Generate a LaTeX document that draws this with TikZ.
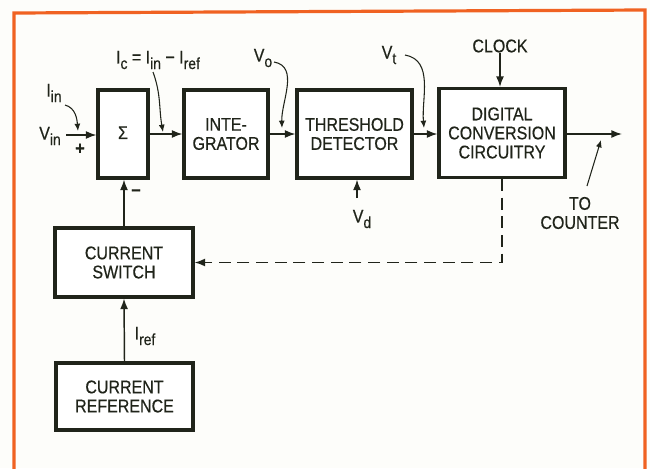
\documentclass[tikz,border=0pt]{standalone}
\usepackage{fontspec}
\setmainfont{Liberation Sans}[FakeStretch=0.87,FakeBold=0.4]
\usetikzlibrary{arrows.meta,calc}
\newcommand{\sbx}[1]{\raisebox{-0.3em}{\fontsize{12}{12}\selectfont #1}}
\definecolor{ink}{RGB}{32,36,26}
\definecolor{frameor}{RGB}{240,98,34}
\definecolor{paper}{RGB}{253,253,250}
\begin{document}
\begin{tikzpicture}[x=0.75pt,y=-0.75pt,
  every node/.style={text=ink, font=\fontsize{13.8}{14.3}\selectfont},
  blk/.style={draw=ink, line width=2.3pt, fill=white, align=center, inner sep=0pt},
  conn/.style={draw=ink, line width=1.1pt, -{Latex[length=8pt,width=6pt]}},
  thinarr/.style={draw=ink, line width=0.8pt, -{Latex[length=5.5pt,width=4.5pt]}},
  lbl/.style={inner sep=0pt, align=center}]
\useasboundingbox (0,0) rectangle (650,468);
\fill[paper] (0,0) rectangle (650,468);
\draw[frameor, line width=2.4pt] (14,470) -- (14,13) -- (645,10) -- (645,470);

% blocks
\node[blk, minimum width=37.5pt, minimum height=66pt] (sig) at (123,134) {\raisebox{2pt}{Σ}};
\node[blk, minimum width=63pt, minimum height=66pt] (integ) at (226,134) {INTE-\\GRATOR};
\node[blk, minimum width=86.25pt, minimum height=66pt] (thr) at (354.5,134) {THRESHOLD\\DETECTOR};
\node[blk, minimum width=94.5pt, minimum height=66.75pt] (dig) at (502,133) {DIGITAL\\CONVERSION\\CIRCUITRY};
\node[blk, minimum width=103.5pt, minimum height=51.75pt] (sw) at (124,262.5) {CURRENT\\SWITCH};
\node[blk, minimum width=102.75pt, minimum height=50.25pt] (ref) at (124.5,396.5) {CURRENT\\REFERENCE};

% labels
\node[lbl] (iin) at (54,93) {I\sbx{in}};
\node[lbl] (vin) at (50,136) {V\sbx{in}};
\node[lbl] (plus) at (80,149) {\textbf{+}};
\node[lbl] (minus) at (136,193) {\textbf{−}};
\node[lbl] (ic) at (158,60) {I\sbx{c} = I\sbx{in} − I\sbx{ref}};
\node[lbl] (vo) at (263,58) {V\sbx{o}};
\node[lbl] (vt) at (389,55) {V\sbx{t}};
\node[lbl] (clock) at (500,46) {CLOCK};
\node[lbl] (vd) at (362,219) {V\sbx{d}};
\node[lbl] (iref) at (145,336) {I\sbx{ref}};
\node[lbl] (toc) at (580,213) {TO\\COUNTER};

% coordinates
\coordinate (vinT) at (66,135);
\coordinate (out) at (622,134);
\coordinate (vdT) at (357,198);
\coordinate (iinT) at (65,105);
\coordinate (iinH) at (78,131);
\coordinate (icT) at (153,72);
\coordinate (icH) at (163,132);
\coordinate (voT) at (274,62);
\coordinate (voH) at (282,128);
\coordinate (vtT) at (405,55);
\coordinate (vtH) at (424,128);
\coordinate (tocT) at (587,186);
\coordinate (tocH) at (601,140);

% main connectors
\draw[conn] (vinT) -- (vinT -| sig.west);
\draw[conn] (sig.east) -- (integ.west);
\draw[conn] (integ.east) -- (thr.west);
\draw[conn] (thr.east) -- (thr.east -| dig.west);
\draw[conn] (dig.east |- out) -- (out);
\draw[conn] (clock.south) -- (clock.south |- dig.north);
\draw[conn] (vdT) -- (vdT |- thr.south);
\draw[conn] (sw.north) -- (sw.north |- sig.south);
\draw[conn] (ref.north) -- (sw.south);
\draw[conn, dash pattern=on 9pt off 5pt] (dig.south) |- (sw.east);

% thin pointer arrows
\draw[thinarr] (iinT) to[out=-15, in=95] (iinH);
\draw[thinarr] (icT) to[out=-70, in=100] (icH);
\draw[thinarr] (voT) to[out=-10, in=92] (voH);
\draw[thinarr] (vtT) to[out=-10, in=95] (vtH);
\draw[thinarr] (tocT) -- (tocH);
\end{tikzpicture}
\end{document}
